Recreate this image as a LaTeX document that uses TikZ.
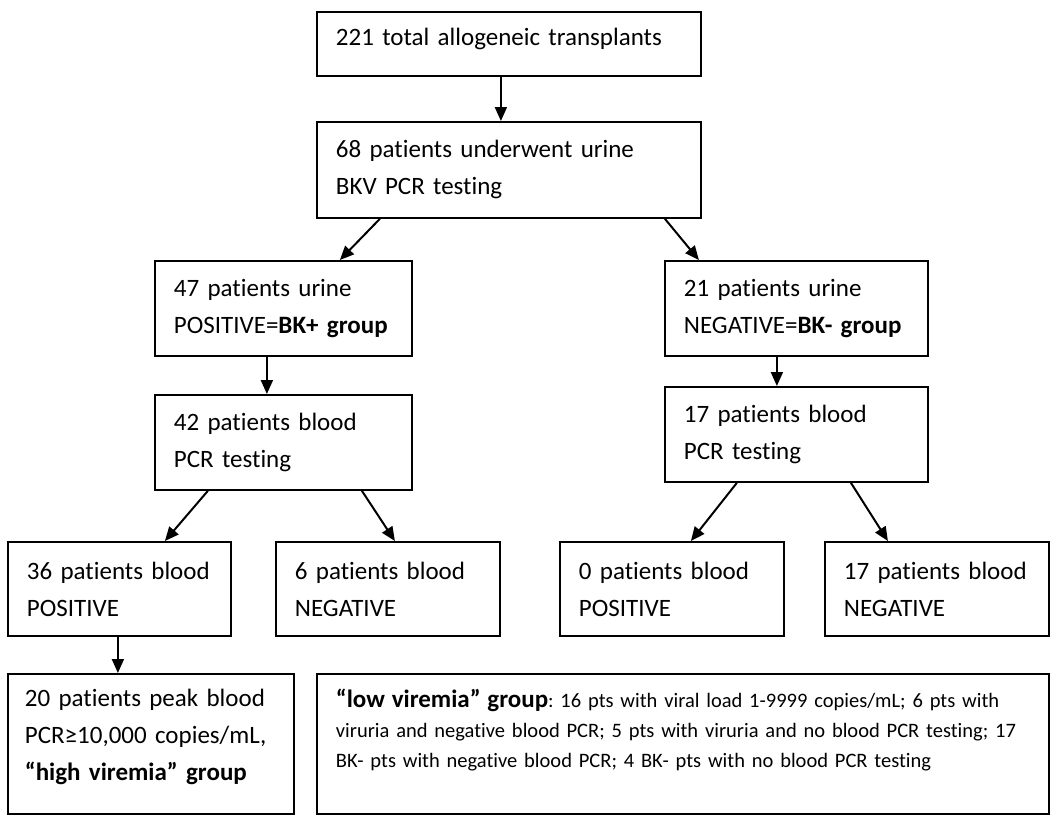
\documentclass[tikz,border=0pt]{standalone}
\usepackage{fontspec}
\setmainfont{Carlito}[Ligatures=NoCommon]
\usetikzlibrary{arrows.meta}
\frenchspacing

\begin{document}
\begin{tikzpicture}[x=1pt, y=-1pt,
  box/.style={draw, line width=1.8pt, anchor=north west, inner xsep=19pt, inner ysep=0pt,
              align=left, font=\fontsize{25}{37}\selectfont},
  arr/.style={line width=2pt, -{Triangle[length=14pt,width=12pt]}}]

\useasboundingbox (0,0) rectangle (1050,815);

% Urine testing
\node [box, text width=346pt, minimum height=64pt, text depth=15pt] (total) at (316,11) {221 total allogeneic transplants};
\node [box, text width=346pt, minimum height=96pt] (urine) at (316,121) {68 patients underwent urine\\BKV PCR testing};
\node [box, text width=219pt, minimum height=95pt] (bkpos) at (154,260) {47 patients urine\\POSITIVE=\textbf{BK+ group}};
\node [box, text width=225pt, minimum height=95pt] (bkneg) at (664,260) {21 patients urine\\NEGATIVE=\textbf{BK- group}};

% Blood testing
\node [box, text width=219pt, minimum height=95pt] (bloodpos) at (154,394) {42 patients blood\\PCR testing};
\node [box, text width=225pt, minimum height=95pt] (bloodneg) at (664,386) {17 patients blood\\PCR testing};
\node [box, text width=185pt, minimum height=94pt] (pospos) at (7,541) {36 patients blood\\POSITIVE};
\node [box, text width=186pt, minimum height=94pt] (posneg) at (275,541) {6 patients blood\\NEGATIVE};
\node [box, text width=186pt, minimum height=94pt] (negpos) at (559,541) {0 patients blood\\POSITIVE};
\node [box, text width=186pt, minimum height=94pt] (negneg) at (824,541) {17 patients blood\\NEGATIVE};

% Groups
\node [box, inner xsep=17pt, text width=252pt, minimum height=140pt, text depth=92pt] (high) at (7,673)
  {20 patients peak blood\\PCR≥10,000 copies/mL,\\\textbf{“high viremia” group}};
\node [box, text width=694pt, minimum height=140pt, text depth=91pt, font=\fontsize{20.5}{30}\selectfont] (low) at (316,673)
  {{\fontsize{25}{30}\selectfont\textbf{“low viremia” group}}: 16 pts with viral load 1-9999 copies/mL; 6 pts with\\
   viruria and negative blood PCR; 5 pts with viruria and no blood PCR testing; 17\\
   BK- pts with negative blood PCR; 4 BK- pts with no blood PCR testing};

\draw [arr] ([xshift=-8pt]total.south) -- ([xshift=-8pt]urine.north);
\draw [arr] ([xshift=-129pt]urine.south) -- ([xshift=56.5pt]bkpos.north);
\draw [arr] ([xshift=156pt]urine.south) -- ([xshift=-97.5pt]bkneg.north);
\draw [arr] ([xshift=-16.5pt]bkpos.south) -- ([xshift=-16.5pt]bloodpos.north);
\draw [arr] ([xshift=-19.5pt]bkneg.south) -- ([xshift=-19.5pt]bloodneg.north);
\draw [arr] ([xshift=-75.5pt]bloodpos.south) -- ([xshift=45.5pt]pospos.north);
\draw [arr] ([xshift=78.5pt]bloodpos.south) -- ([xshift=7pt]posneg.north);
\draw [arr] ([xshift=-59.5pt]bloodneg.south) -- ([xshift=19pt]negpos.north);
\draw [arr] ([xshift=54.5pt]bloodneg.south) -- ([xshift=-49pt]negneg.north);
\draw [arr] ([xshift=-1.5pt]pospos.south) -- ([xshift=-33pt]high.north);

\end{tikzpicture}
\end{document}
